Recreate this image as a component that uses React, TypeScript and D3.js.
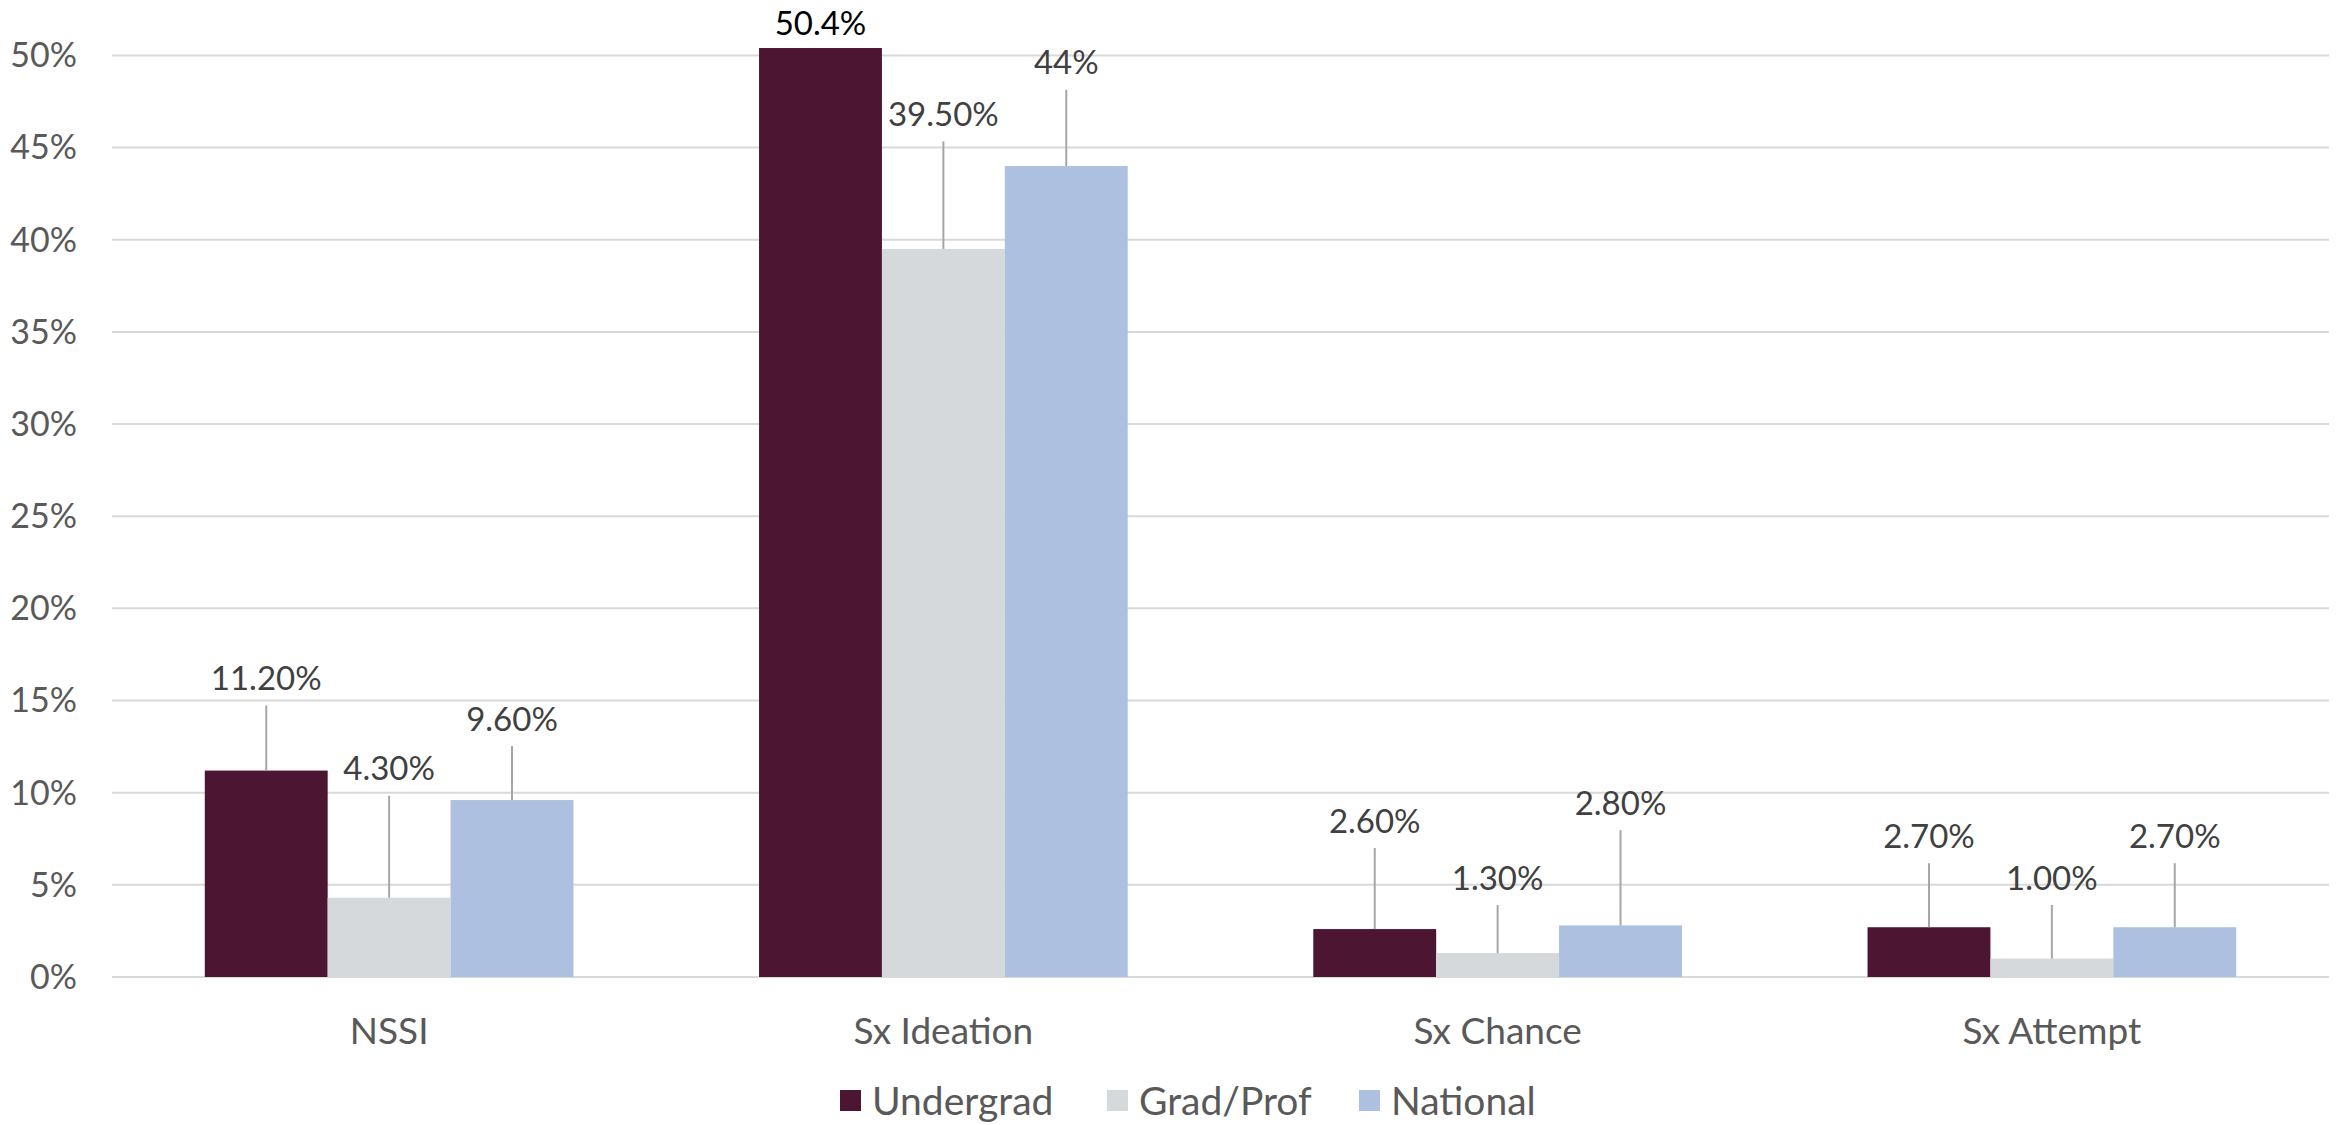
import React from "react";
import * as d3 from "d3";

const categories = ["NSSI", "Sx Ideation", "Sx Chance", "Sx Attempt"];
const seriesNames = ["Undergrad", "Grad/Prof", "National"];
const undergrad = [11.2, 50.4, 2.6, 2.7];
const gradProf = [4.3, 39.5, 1.3, 1.0];
const national = [9.6, 44, 2.8, 2.7];
const undergradLabels = ["11.20%", "50.4%", "2.60%", "2.70%"];
const gradProfLabels = ["4.30%", "39.50%", "1.30%", "1.00%"];
const nationalLabels = ["9.60%", "44%", "2.80%", "2.70%"];
const yTicks = [0, 5, 10, 15, 20, 25, 30, 35, 40, 45, 50];

// label placement (value units where the label centre sits)
const undergradLabelAt = [16.2, 51.75, 8.46, 7.64];
const gradProfLabelAt = [11.3, 46.8, 5.37, 5.37];
const nationalLabelAt = [14.0, 49.6, 9.43, 7.64];

const colors = ["#4C1532", "#D6D9DC", "#AEC0E0"];
const W = 2349;
const H = 1125;
const FONT = "Lato, 'Open Sans', sans-serif";

export default function App() {
  const left = 112, right = 2329, top = 55.4, bottom = 977;
  const x0 = d3.scaleBand<string>().domain(categories).range([left, right]).paddingInner(0).paddingOuter(0);
  const y = d3.scaleLinear().domain([0, 50]).range([bottom, top]);
  const band = x0.bandwidth();
  const barW = band / 4.51;
  const x1 = d3.scaleBand<string>().domain(seriesNames).range([0, barW * 3]);
  const groupOffset = (band - barW * 3) / 2;
  const series = [
    { name: seriesNames[0], values: undergrad, labels: undergradLabels, at: undergradLabelAt },
    { name: seriesNames[1], values: gradProf, labels: gradProfLabels, at: gradProfLabelAt },
    { name: seriesNames[2], values: national, labels: nationalLabels, at: nationalLabelAt },
  ];
  const legendX = [840, 1107, 1359];

  return (
    <svg width={W} height={H} style={{ position: "absolute", left: 0, top: 0, background: "#fff" }} fontFamily={FONT}>
      <rect width={W} height={H} fill="#fff" />
      {yTicks.map((t) => (
        <g key={t}>
          <line x1={left} x2={right} y1={y(t)} y2={y(t)} stroke="#D9D9D9" strokeWidth={2} />
          <text x={77} y={y(t)} dy="0.35em" textAnchor="end" fontSize={34} fill="#595959">{t}%</text>
        </g>
      ))}
      {series.map((s, si) => (
        <g key={s.name}>
          {categories.map((c, ci) => {
            const bx = (x0(c) as number) + groupOffset + (x1(s.name) as number);
            const v = s.values[ci];
            return (
              <rect key={c} x={bx} y={y(v)} width={x1.bandwidth()} height={y(0) - y(v)} fill={colors[si]} />
            );
          })}
        </g>
      ))}
      {series.map((s, si) => (
        <g key={s.name + "lab"}>
          {categories.map((c, ci) => {
            const cx = (x0(c) as number) + groupOffset + (x1(s.name) as number) + x1.bandwidth() / 2;
            const v = s.values[ci];
            const ly = y(s.at[ci]);
            const isTop = si === 0 && ci === 1;
            return (
              <g key={c}>
                {!isTop && (
                  <line x1={cx} x2={cx} y1={ly + 27} y2={y(v)} stroke="#A6A6A6" strokeWidth={2} />
                )}
                <text x={cx} y={ly} dy="0.35em" textAnchor="middle" fontSize={33} fill={isTop ? "#000" : "#404040"}>
                  {s.labels[ci]}
                </text>
              </g>
            );
          })}
        </g>
      ))}
      {categories.map((c) => (
        <text key={c} x={(x0(c) as number) + band / 2} y={1031} dy="0.35em" textAnchor="middle" fontSize={37} fill="#595959">{c}</text>
      ))}
      {seriesNames.map((n, i) => (
        <g key={n}>
          <rect x={legendX[i]} y={1090} width={21} height={21} fill={colors[i]} />
          <text x={legendX[i] + 32} y={1101} dy="0.35em" fontSize={39} fill="#595959">{n}</text>
        </g>
      ))}
    </svg>
  );
}
